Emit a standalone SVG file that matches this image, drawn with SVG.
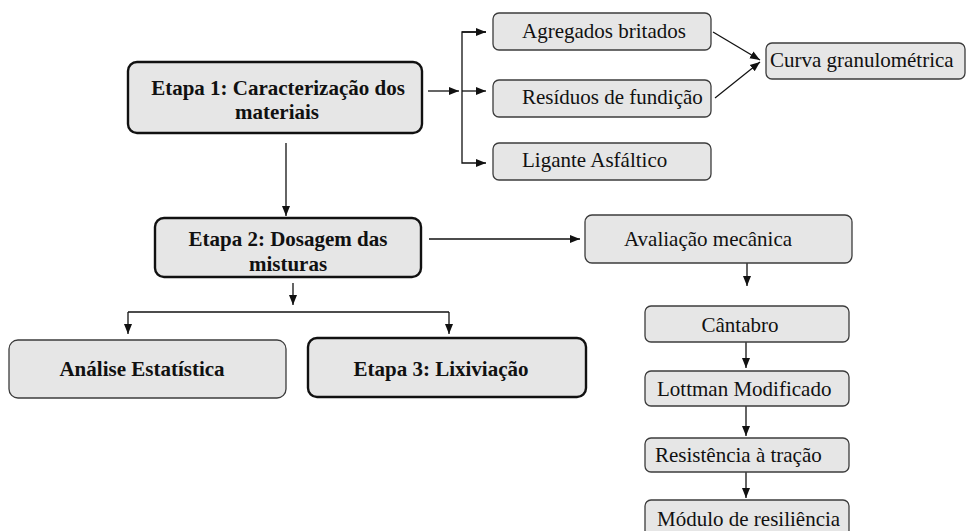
<svg xmlns="http://www.w3.org/2000/svg" width="970" height="531" viewBox="0 0 970 531">
<style>
.box{fill:#e6e6e6;stroke:#3c3c3c;stroke-width:1.3}
.bbox{fill:#e6e6e6;stroke:#111;stroke-width:2.4}
.t{font-family:"Liberation Serif","Times New Roman",serif;font-size:21px;fill:#111}
.b{font-weight:bold}
.m{text-anchor:middle}
.c{fill:none;stroke:#111;stroke-width:1.3}
</style>
<defs>
<marker id="ah" markerUnits="userSpaceOnUse" markerWidth="10" markerHeight="10" viewBox="0 0 10 10" refX="10" refY="5" orient="auto">
<path d="M0,1 L10,5 L0,9 Z" fill="#111"/>
</marker>
</defs>
<rect width="970" height="531" fill="#fff"/>
<g id="connectors">
<line class="c" x1="428" y1="91" x2="459" y2="91" marker-end="url(#ah)"/>
<polyline class="c" points="486,32 462,32 462,163 486,163" marker-end="url(#ah)"/>
<line class="c" x1="462" y1="32" x2="486" y2="32" marker-end="url(#ah)"/>
<line class="c" x1="462" y1="91" x2="486" y2="91" marker-end="url(#ah)"/>
<line class="c" x1="713" y1="32" x2="760" y2="60" marker-end="url(#ah)"/>
<line class="c" x1="715" y1="98" x2="760" y2="62" marker-end="url(#ah)"/>
<line class="c" x1="286" y1="143" x2="286" y2="216" marker-end="url(#ah)"/>
<line class="c" x1="429" y1="239" x2="580" y2="239" marker-end="url(#ah)"/>
<line class="c" x1="293" y1="283" x2="293" y2="305" marker-end="url(#ah)"/>
<polyline class="c" points="128,312 449,312"/>
<line class="c" x1="128" y1="312" x2="128" y2="334" marker-end="url(#ah)"/>
<line class="c" x1="449" y1="312" x2="449" y2="334" marker-end="url(#ah)"/>
<line class="c" x1="747" y1="263" x2="747" y2="286" marker-end="url(#ah)"/>
<line class="c" x1="746" y1="342" x2="746" y2="368" marker-end="url(#ah)"/>
<line class="c" x1="746" y1="406" x2="746" y2="436" marker-end="url(#ah)"/>
<line class="c" x1="746" y1="472" x2="746" y2="498" marker-end="url(#ah)"/>
</g>
<g id="etapa1">
<rect class="bbox" x="128" y="62" width="294" height="71" rx="9"/>
<text class="t b m" x="278" y="95">Etapa 1: Caracterização dos</text>
<text class="t b m" x="277" y="119">materiais</text>
</g>
<g id="agregados">
<rect class="box" x="493" y="13" width="218" height="37" rx="6"/>
<text class="t" x="522" y="38">Agregados britados</text>
</g>
<g id="residuos">
<rect class="box" x="493" y="80" width="218" height="37" rx="6"/>
<text class="t" x="522" y="104">Resíduos de fundição</text>
</g>
<g id="ligante">
<rect class="box" x="493" y="143" width="218" height="37" rx="6"/>
<text class="t" x="522" y="167">Ligante Asfáltico</text>
</g>
<g id="curva">
<rect class="box" x="766" y="43" width="199" height="36" rx="6"/>
<text class="t" x="770" y="67">Curva granulométrica</text>
</g>
<g id="etapa2">
<rect class="bbox" x="155" y="218" width="266" height="59" rx="9"/>
<text class="t b m" x="288" y="246">Etapa 2: Dosagem das</text>
<text class="t b m" x="288" y="271">misturas</text>
</g>
<g id="avaliacao">
<rect class="box" x="585" y="215" width="267" height="48" rx="7"/>
<text class="t" x="624" y="246">Avaliação mecânica</text>
</g>
<g id="analise">
<rect class="box" x="9" y="340" width="277" height="58" rx="9"/>
<text class="t b m" x="142" y="376">Análise Estatística</text>
</g>
<g id="etapa3">
<rect class="bbox" x="308" y="338" width="278" height="59" rx="9"/>
<text class="t b m" x="441" y="376">Etapa 3: Lixiviação</text>
</g>
<g id="cantabro">
<rect class="box" x="645" y="306" width="204" height="36" rx="6"/>
<text class="t m" x="740" y="332">Cântabro</text>
</g>
<g id="lottman">
<rect class="box" x="645" y="371" width="204" height="35" rx="6"/>
<text class="t" x="657" y="396">Lottman Modificado</text>
</g>
<g id="resistencia">
<rect class="box" x="645" y="438" width="204" height="34" rx="6"/>
<text class="t" x="655" y="462">Resistência à tração</text>
</g>
<g id="modulo">
<rect class="box" x="645" y="500" width="204" height="40" rx="6"/>
<text class="t" x="657" y="526">Módulo de resiliência</text>
</g>
</svg>
